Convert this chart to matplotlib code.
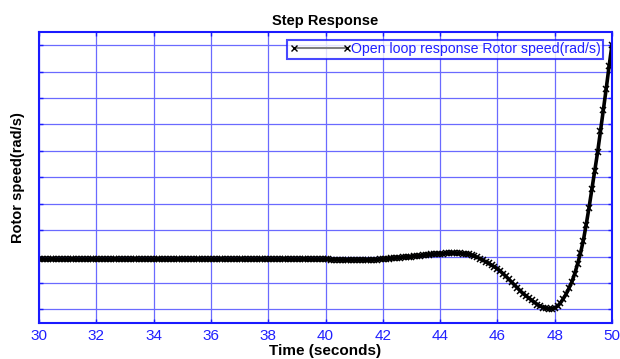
import matplotlib
matplotlib.use("Agg")
import matplotlib.pyplot as plt
import numpy as np
from matplotlib.lines import Line2D

plt.rcParams['font.family'] = ['Liberation Sans', 'DejaVu Sans']

# time axis (s), sampled every 0.1 s
t = np.round(np.arange(30.0, 50.0001, 0.1), 1)

# rotor speed (arbitrary units, grid step = 1)
speed_30_40 = [
    1.89, 1.89, 1.89, 1.89, 1.89, 1.89, 1.89, 1.89, 1.89, 1.89,
    1.89, 1.89, 1.89, 1.89, 1.89, 1.89, 1.89, 1.89, 1.89, 1.89,
    1.89, 1.89, 1.89, 1.89, 1.89, 1.89, 1.89, 1.89, 1.89, 1.89,
    1.89, 1.89, 1.89, 1.89, 1.89, 1.89, 1.89, 1.89, 1.89, 1.89,
    1.89, 1.89, 1.89, 1.89, 1.89, 1.89, 1.89, 1.89, 1.89, 1.89,
    1.89, 1.89, 1.89, 1.89, 1.89, 1.89, 1.89, 1.89, 1.89, 1.89,
    1.89, 1.89, 1.89, 1.89, 1.89, 1.89, 1.89, 1.89, 1.89, 1.89,
    1.89, 1.89, 1.89, 1.89, 1.89, 1.89, 1.89, 1.89, 1.89, 1.89,
    1.89, 1.89, 1.89, 1.89, 1.89, 1.89, 1.89, 1.89, 1.89, 1.89,
    1.89, 1.89, 1.89, 1.89, 1.89, 1.89, 1.89, 1.89, 1.89, 1.89,
]
speed_40_50 = [
    1.89, 1.89, 1.88, 1.88, 1.88, 1.87, 1.87, 1.87, 1.87, 1.87,   # 40.0
    1.87, 1.87, 1.87, 1.87, 1.87, 1.87, 1.87, 1.88, 1.88, 1.89,   # 41.0
    1.90, 1.91, 1.92, 1.93, 1.94, 1.95, 1.96, 1.97, 1.98, 1.99,   # 42.0
    2.00, 2.01, 2.02, 2.03, 2.04, 2.06, 2.07, 2.08, 2.09, 2.10,   # 43.0
    2.10, 2.11, 2.12, 2.13, 2.13, 2.13, 2.12, 2.12, 2.11, 2.10,   # 44.0
    2.08, 2.05, 2.01, 1.97, 1.92, 1.86, 1.80, 1.74, 1.67, 1.61,   # 45.0
    1.54, 1.45, 1.35, 1.25, 1.14, 1.03, 0.92, 0.81, 0.70, 0.60,   # 46.0
    0.51, 0.43, 0.34, 0.26, 0.18, 0.12, 0.07, 0.04, 0.02, 0.03,   # 47.0
    0.05, 0.12, 0.24, 0.40, 0.58, 0.80, 1.04, 1.35, 1.72, 2.12,   # 48.0
    2.60, 3.20, 3.85, 4.55, 5.25, 5.95, 6.75, 7.55, 8.35, 9.20,   # 49.0
    10.00,                                                        # 50.0
]
speed = speed_30_40 + speed_40_50

xticks = [30, 32, 34, 36, 38, 40, 42, 44, 46, 48, 50]
yticks = [0, 1, 2, 3, 4, 5, 6, 7, 8, 9, 10]

fig = plt.figure(figsize=(6.2, 3.59), dpi=100)
ax = fig.add_axes([0.063, 0.100, 0.924, 0.811])

ax.plot(t, speed, color='black', linewidth=2.6, marker='x',
        markersize=4.5, markeredgewidth=1.1)

ax.set_xlim(30, 50)
ax.set_ylim(-0.52, 10.5)
ax.set_xticks(xticks)
ax.set_yticks(yticks)
ax.set_yticklabels([])
ax.grid(True, color='#6a6aff', linewidth=0.9, linestyle='-')
ax.tick_params(direction='in', length=3, width=1, colors='#1a1aff',
               top=True, right=True, labelsize=11, pad=4)
ax.tick_params(axis='x', labelcolor='#2020ff')
for sp in ax.spines.values():
    sp.set_color('#1a1aff')
    sp.set_linewidth(1.5)

ax.set_title('Step Response', fontsize=10.5, fontweight='bold', pad=5)
ax.set_xlabel('Time (seconds)', fontsize=11, fontweight='bold', labelpad=1)
ax.set_ylabel('Rotor speed(rad/s)', fontsize=10.5, fontweight='bold', labelpad=6)

handle = Line2D([], [], color='gray', linewidth=1.5, marker='x',
                markersize=4, markeredgecolor='black')
leg = ax.legend([handle], ['Open loop response Rotor speed(rad/s)'],
                loc='upper right', bbox_to_anchor=(0.985, 0.974),
                numpoints=2, handlelength=4.3, handletextpad=0.0,
                fontsize=10.2, frameon=True, fancybox=False,
                borderpad=0.2, borderaxespad=0.0)
leg.get_frame().set_edgecolor('#1a1aff')
leg.get_frame().set_linewidth(1.5)
for txt in leg.get_texts():
    txt.set_color('#2020ff')

fig.savefig('out.png', dpi=100)
